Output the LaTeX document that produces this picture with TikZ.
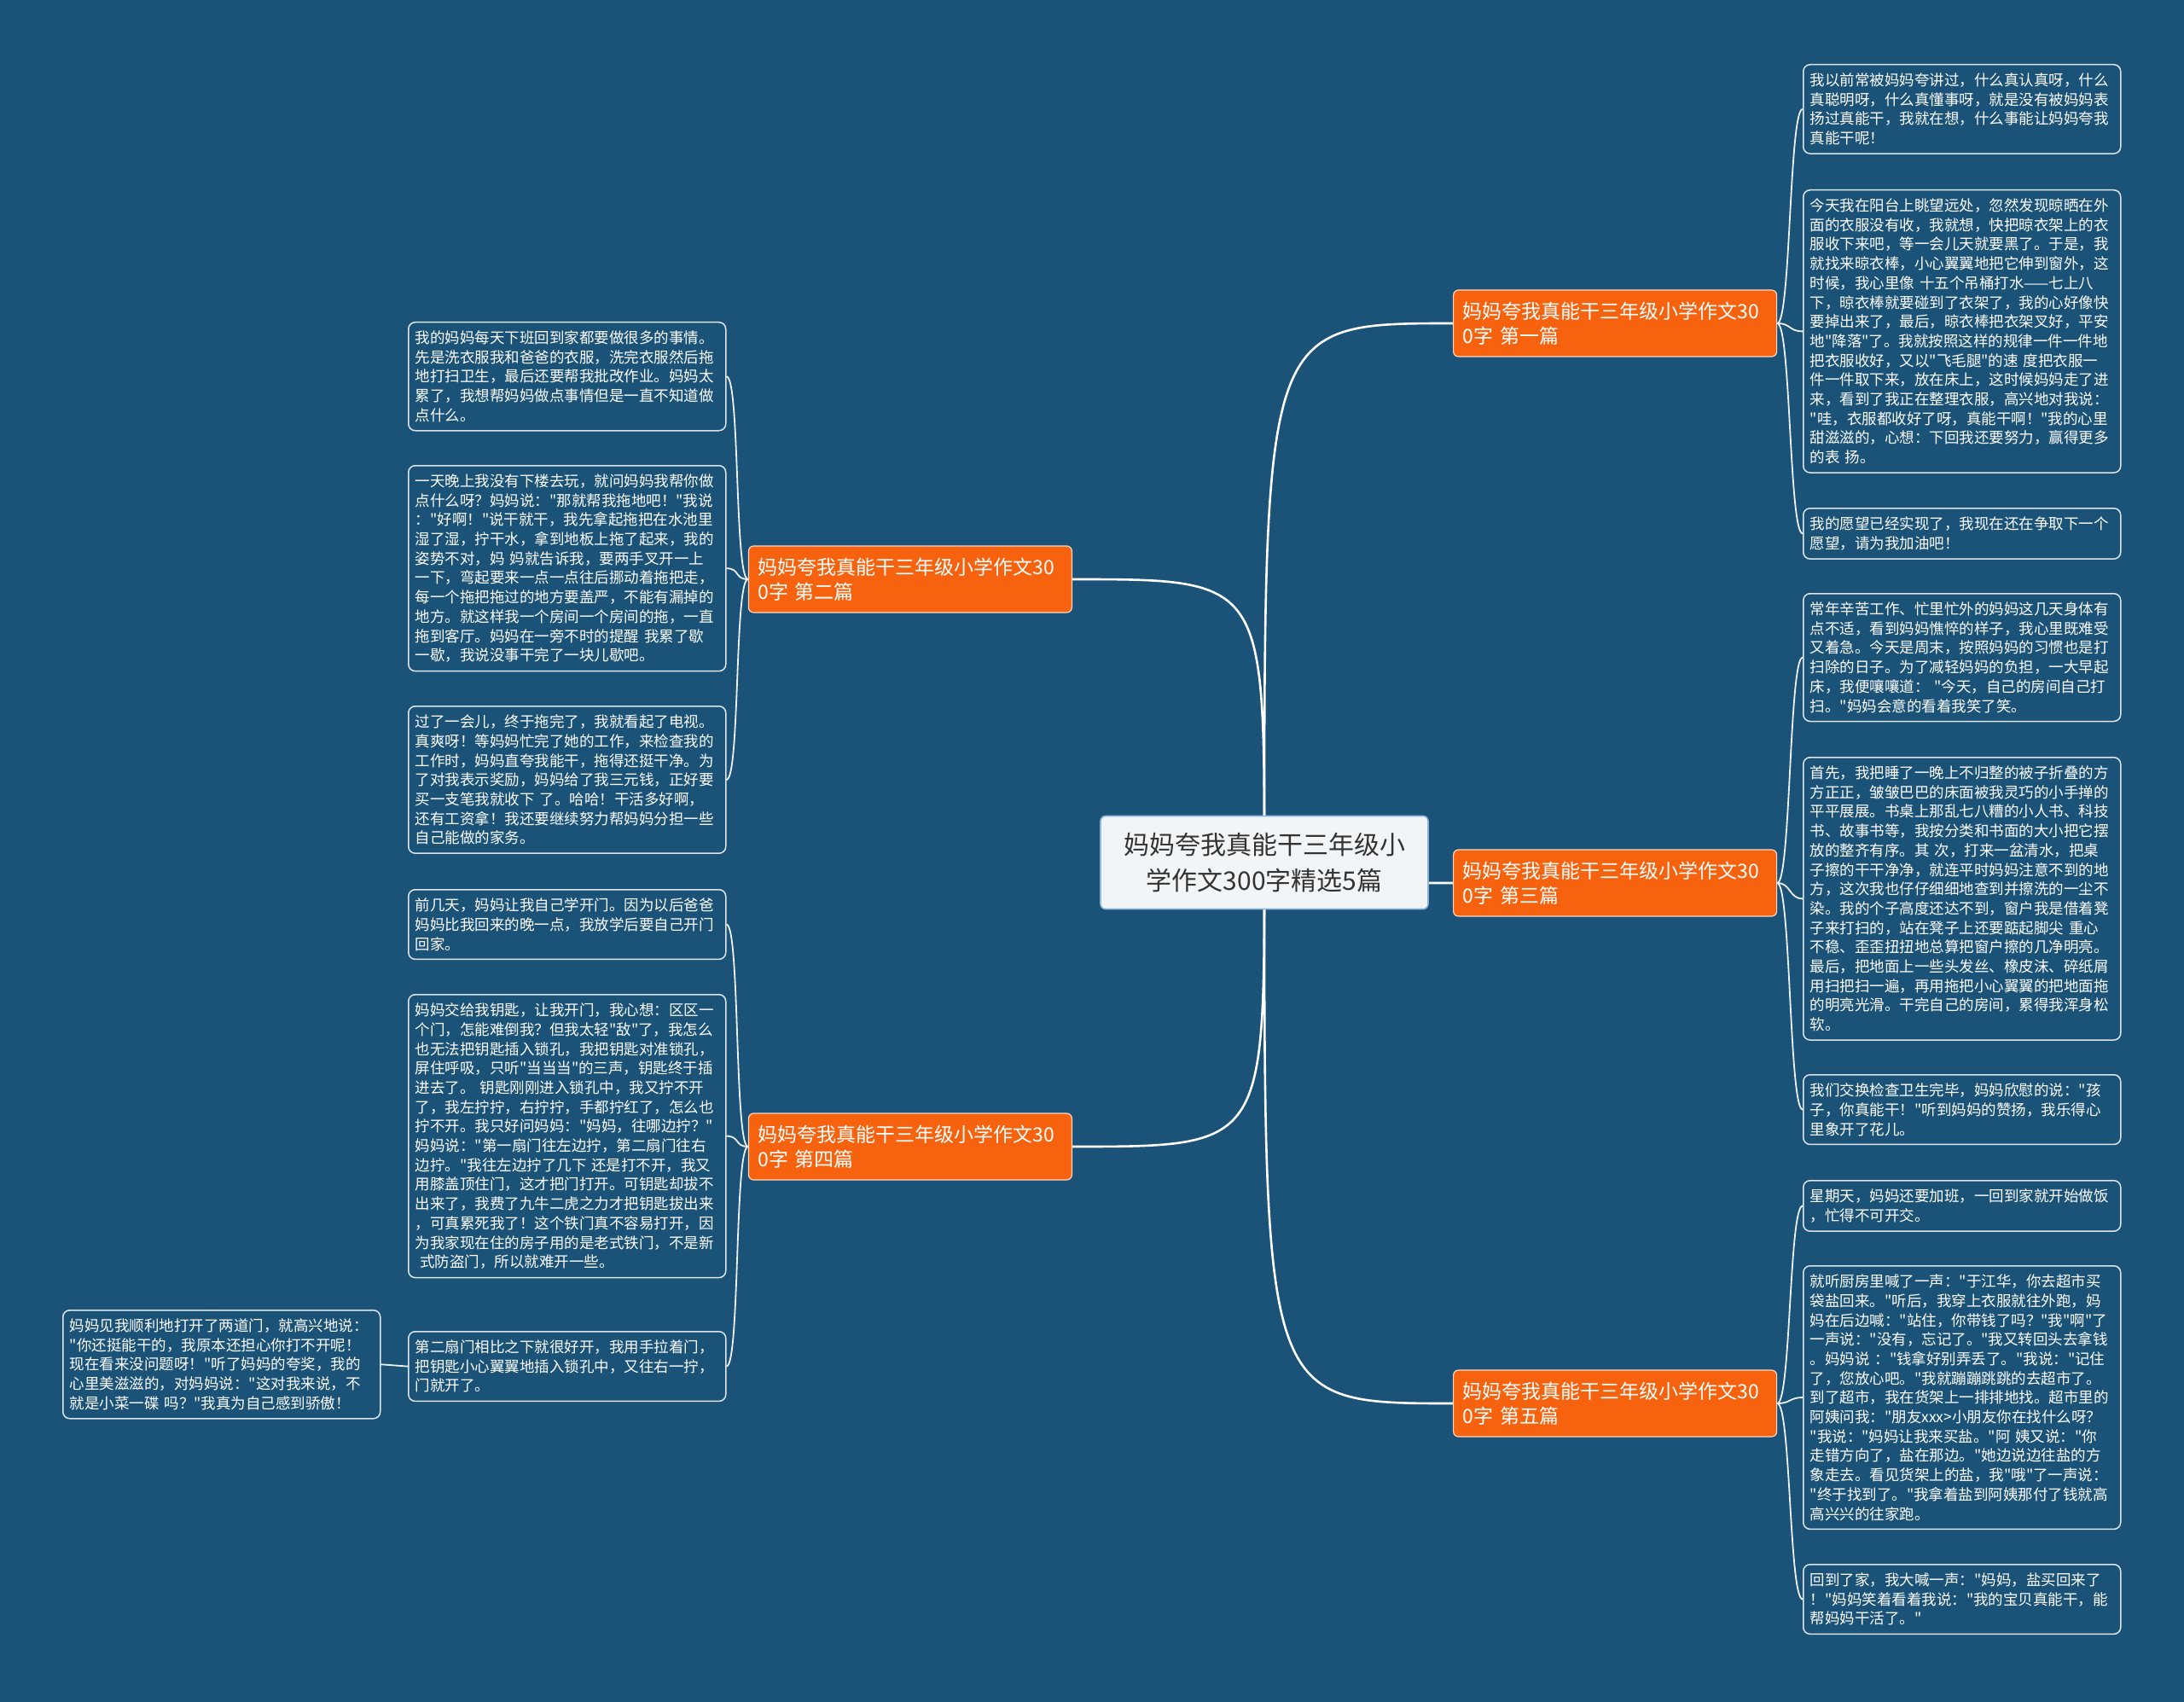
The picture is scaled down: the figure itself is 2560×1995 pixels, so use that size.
\documentclass[tikz,border=0pt]{standalone}
\usepackage{fontspec}
\setmainfont{Noto Sans CJK SC}[Ligatures=TeXOff]
\usepackage{tikz}
\usetikzlibrary{positioning,backgrounds}
\definecolor{deepsea}  {HTML}{1B5378}
\definecolor{tangerine}{HTML}{F7620E}
\definecolor{rootfill} {HTML}{F2F5F8}
\definecolor{rootline} {HTML}{8DB6DD}
\definecolor{rootink}  {HTML}{333333}
\setlength{\parindent}{0pt}
\tikzset{
  % --- nodes
  root/.style   = {rounded corners=3pt, draw=rootline, fill=rootfill, text=rootink,
                   line width=0.8pt, align=center, minimum width=192pt, minimum height=54.5pt,
                   font=\fontsize{15pt}{21pt}\selectfont},
  branch/.style = {rounded corners=3pt, draw=white!75!tangerine, fill=tangerine, text=white,
                   line width=0.6pt, align=left, text width=178.5pt, inner xsep=5.5pt,
                   minimum height=39pt, font=\fontsize{11.5pt}{14.7pt}\selectfont},
  leaf/.style   = {rounded corners=4pt, draw=white!85!deepsea, fill=deepsea, text=white,
                   line width=0.75pt, align=left, text width=178pt, inner xsep=4pt,
                   inner ysep=5pt, anchor=north west, font=\fontsize{8.75pt}{11.35pt}\selectfont},
  % --- edges
  trunk/.style  = {draw=white, line width=1.3pt},
  twig/.style   = {draw=white!92!deepsea, line width=0.9pt},
}

\begin{document}
\begin{tikzpicture}[x=0.5pt,y=-0.5pt]
  % root and the five essays
  \node[root] (root) at (1482,1011) {妈妈夸我真能干三年级小\\学作文300字精选5篇};
  \node[branch,anchor=west] (b1) at (1703,379)  {妈妈夸我真能干三年级小学作文30\\0字 第一篇};
  \node[branch,anchor=east] (b2) at (1257,679)  {妈妈夸我真能干三年级小学作文30\\0字 第二篇};
  \node[branch,anchor=west] (b3) at (1703,1035) {妈妈夸我真能干三年级小学作文30\\0字 第三篇};
  \node[branch,anchor=east] (b4) at (1257,1344) {妈妈夸我真能干三年级小学作文30\\0字 第四篇};
  \node[branch,anchor=west] (b5) at (1703,1645) {妈妈夸我真能干三年级小学作文30\\0字 第五篇};

  % right column
  \node[leaf] (r1) at (2113,75) {我以前常被妈妈夸讲过，什么真认真呀，什么\\
真聪明呀，什么真懂事呀，就是没有被妈妈表\\
扬过真能干，我就在想，什么事能让妈妈夸我\\
真能干呢！};
  \node[leaf] (r2) at (2113,222) {今天我在阳台上眺望远处，忽然发现晾晒在外\\
面的衣服没有收，我就想，快把晾衣架上的衣\\
服收下来吧，等一会儿天就要黑了。于是，我\\
就找来晾衣棒，小心翼翼地把它伸到窗外，这\\
时候，我心里像 十五个吊桶打水——七上八\\
下，晾衣棒就要碰到了衣架了，我的心好像快\\
要掉出来了，最后，晾衣棒把衣架叉好，平安\\
地"降落"了。我就按照这样的规律一件一件地\\
把衣服收好，又以"飞毛腿"的速 度把衣服一\\
件一件取下来，放在床上，这时候妈妈走了进\\
来，看到了我正在整理衣服，高兴地对我说：\\
"哇，衣服都收好了呀，真能干啊！"我的心里\\
甜滋滋的，心想：下回我还要努力，赢得更多\\
的表 扬。};
  \node[leaf] (r3) at (2113,595) {我的愿望已经实现了，我现在还在争取下一个\\
愿望，请为我加油吧！};
  \node[leaf] (r4) at (2113,695) {常年辛苦工作、忙里忙外的妈妈这几天身体有\\
点不适，看到妈妈憔悴的样子，我心里既难受\\
又着急。今天是周末，按照妈妈的习惯也是打\\
扫除的日子。为了减轻妈妈的负担，一大早起\\
床，我便嚷嚷道： "今天，自己的房间自己打\\
扫。"妈妈会意的看着我笑了笑。};
  \node[leaf] (r5) at (2113,887) {首先，我把睡了一晚上不归整的被子折叠的方\\
方正正，皱皱巴巴的床面被我灵巧的小手掸的\\
平平展展。书桌上那乱七八糟的小人书、科技\\
书、故事书等，我按分类和书面的大小把它摆\\
放的整齐有序。其 次，打来一盆清水，把桌\\
子擦的干干净净，就连平时妈妈注意不到的地\\
方，这次我也仔仔细细地查到并擦洗的一尘不\\
染。我的个子高度还达不到，窗户我是借着凳\\
子来打扫的，站在凳子上还要踮起脚尖 重心\\
不稳、歪歪扭扭地总算把窗户擦的几净明亮。\\
最后，把地面上一些头发丝、橡皮沫、碎纸屑\\
用扫把扫一遍，再用拖把小心翼翼的把地面拖\\
的明亮光滑。干完自己的房间，累得我浑身松\\
软。};
  \node[leaf] (r6) at (2113,1259) {我们交换检查卫生完毕，妈妈欣慰的说："孩\\
子，你真能干！"听到妈妈的赞扬，我乐得心\\
里象开了花儿。};
  \node[leaf] (r7) at (2113,1383) {星期天，妈妈还要加班，一回到家就开始做饭\\
，忙得不可开交。};
  \node[leaf] (r8) at (2113,1483) {就听厨房里喊了一声："于江华，你去超市买\\
袋盐回来。"听后，我穿上衣服就往外跑，妈\\
妈在后边喊："站住，你带钱了吗？"我"啊"了\\
一声说："没有，忘记了。"我又转回头去拿钱\\
。妈妈说 ："钱拿好别弄丢了。"我说："记住\\
了，您放心吧。"我就蹦蹦跳跳的去超市了。\\
到了超市，我在货架上一排排地找。超市里的\\
阿姨问我："朋友xxx>小朋友你在找什么呀？\\
"我说："妈妈让我来买盐。"阿 姨又说："你\\
走错方向了，盐在那边。"她边说边往盐的方\\
象走去。看见货架上的盐，我"哦"了一声说：\\
"终于找到了。"我拿着盐到阿姨那付了钱就高\\
高兴兴的往家跑。};
  \node[leaf] (r9) at (2113,1833) {回到了家，我大喊一声："妈妈，盐买回来了\\
！"妈妈笑着看着我说："我的宝贝真能干，能\\
帮妈妈干活了。"};

  % left column
  \node[leaf] (l1) at (478,377) {我的妈妈每天下班回到家都要做很多的事情。\\
先是洗衣服我和爸爸的衣服，洗完衣服然后拖\\
地打扫卫生，最后还要帮我批改作业。妈妈太\\
累了，我想帮妈妈做点事情但是一直不知道做\\
点什么。};
  \node[leaf] (l2) at (478,545) {一天晚上我没有下楼去玩，就问妈妈我帮你做\\
点什么呀？妈妈说："那就帮我拖地吧！"我说\\
："好啊！"说干就干，我先拿起拖把在水池里\\
湿了湿，拧干水，拿到地板上拖了起来，我的\\
姿势不对，妈 妈就告诉我，要两手叉开一上\\
一下，弯起要来一点一点往后挪动着拖把走，\\
每一个拖把拖过的地方要盖严，不能有漏掉的\\
地方。就这样我一个房间一个房间的拖，一直\\
拖到客厅。妈妈在一旁不时的提醒 我累了歇\\
一歇，我说没事干完了一块儿歇吧。};
  \node[leaf] (l3) at (478,827) {过了一会儿，终于拖完了，我就看起了电视。\\
真爽呀！等妈妈忙完了她的工作，来检查我的\\
工作时，妈妈直夸我能干，拖得还挺干净。为\\
了对我表示奖励，妈妈给了我三元钱，正好要\\
买一支笔我就收下 了。哈哈！干活多好啊，\\
还有工资拿！我还要继续努力帮妈妈分担一些\\
自己能做的家务。};
  \node[leaf] (l4) at (478,1042) {前几天，妈妈让我自己学开门。因为以后爸爸\\
妈妈比我回来的晚一点，我放学后要自己开门\\
回家。};
  \node[leaf] (l5) at (478,1165) {妈妈交给我钥匙，让我开门，我心想：区区一\\
个门，怎能难倒我？但我太轻"敌"了，我怎么\\
也无法把钥匙插入锁孔，我把钥匙对准锁孔，\\
屏住呼吸，只听"当当当"的三声，钥匙终于插\\
进去了。 钥匙刚刚进入锁孔中，我又拧不开\\
了，我左拧拧，右拧拧，手都拧红了，怎么也\\
拧不开。我只好问妈妈："妈妈，往哪边拧？"\\
妈妈说："第一扇门往左边拧，第二扇门往右\\
边拧。"我往左边拧了几下 还是打不开，我又\\
用膝盖顶住门，这才把门打开。可钥匙却拔不\\
出来了，我费了九牛二虎之力才把钥匙拔出来\\
，可真累死我了！这个铁门真不容易打开，因\\
为我家现在住的房子用的是老式铁门，不是新\\
\hspace{0.3em}式防盗门，所以就难开一些。};
  \node[leaf] (l6) at (478,1560) {第二扇门相比之下就很好开，我用手拉着门，\\
把钥匙小心翼翼地插入锁孔中，又往右一拧，\\
门就开了。};
  \node[leaf] (l7) at (73,1535) {妈妈见我顺利地打开了两道门，就高兴地说：\\
"你还挺能干的，我原本还担心你打不开呢！\\
现在看来没问题呀！"听了妈妈的夸奖，我的\\
心里美滋滋的，对妈妈说："这对我来说，不\\
就是小菜一碟 吗？"我真为自己感到骄傲！};

  \begin{scope}[on background layer]
    \fill[deepsea] (0,0) rectangle (2560,1995);
    % root to essays
    \draw[trunk] (root.center) .. controls (1482,379)  and (1482,379)  .. (b1.west);
    \draw[trunk] (root.center) .. controls (1482,679)  and (1482,679)  .. (b2.east);
    \draw[trunk] (root.center) .. controls (1482,1035) and (1482,1035) .. (b3.west);
    \draw[trunk] (root.center) .. controls (1482,1344) and (1482,1344) .. (b4.east);
    \draw[trunk] (root.center) .. controls (1482,1645) and (1482,1645) .. (b5.west);
  \end{scope}

  % essays to paragraphs
  \draw[twig] (b1.east) .. controls +(16,0) and +(-16,0) .. (r1.west);
  \draw[twig] (b1.east) .. controls +(16,0) and +(-16,0) .. (r2.west);
  \draw[twig] (b1.east) .. controls +(16,0) and +(-16,0) .. (r3.west);
  \draw[twig] (b3.east) .. controls +(16,0) and +(-16,0) .. (r4.west);
  \draw[twig] (b3.east) .. controls +(16,0) and +(-16,0) .. (r5.west);
  \draw[twig] (b3.east) .. controls +(16,0) and +(-16,0) .. (r6.west);
  \draw[twig] (b5.east) .. controls +(16,0) and +(-16,0) .. (r7.west);
  \draw[twig] (b5.east) .. controls +(16,0) and +(-16,0) .. (r8.west);
  \draw[twig] (b5.east) .. controls +(16,0) and +(-16,0) .. (r9.west);
  \draw[twig] (b2.west) .. controls +(-16,0) and +(16,0) .. (l1.east);
  \draw[twig] (b2.west) .. controls +(-16,0) and +(16,0) .. (l2.east);
  \draw[twig] (b2.west) .. controls +(-16,0) and +(16,0) .. (l3.east);
  \draw[twig] (b4.west) .. controls +(-16,0) and +(16,0) .. (l4.east);
  \draw[twig] (b4.west) .. controls +(-16,0) and +(16,0) .. (l5.east);
  \draw[twig] (b4.west) .. controls +(-16,0) and +(16,0) .. (l6.east);
  \draw[twig] (l6.west) -- (l7.east);
\end{tikzpicture}
\end{document}
